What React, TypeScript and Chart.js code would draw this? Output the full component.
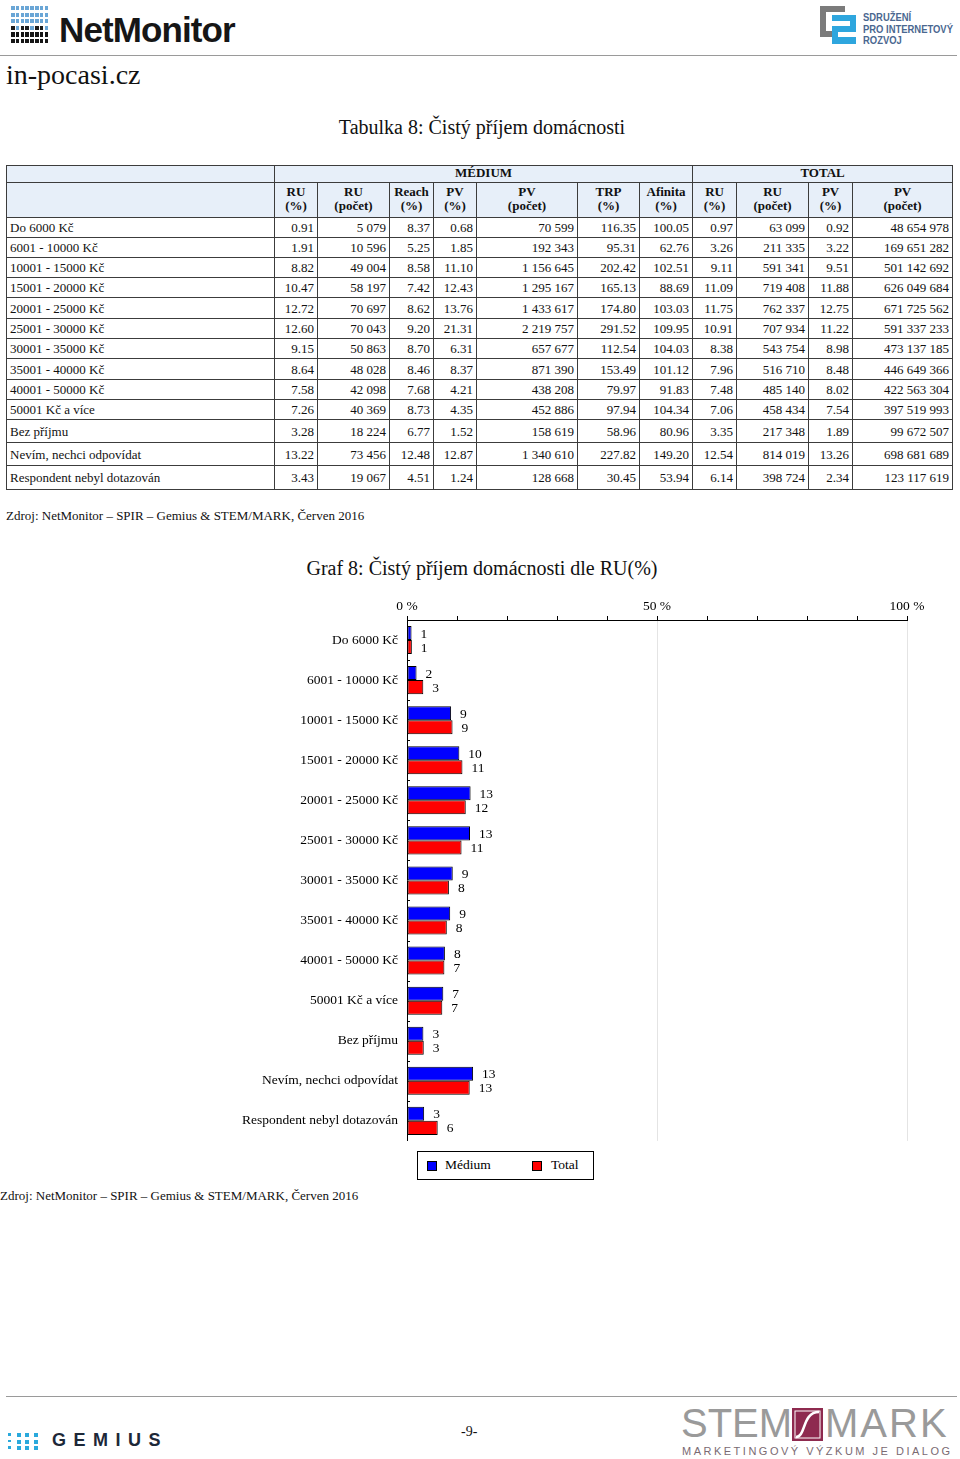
import React, { useEffect, useRef } from 'react';
import { Chart, registerables } from 'chart.js';

Chart.register(...registerables);

// ---------- DATA ----------
const categories = [
  'Do 6000 Kč',
  '6001 - 10000 Kč',
  '10001 - 15000 Kč',
  '15001 - 20000 Kč',
  '20001 - 25000 Kč',
  '25001 - 30000 Kč',
  '30001 - 35000 Kč',
  '35001 - 40000 Kč',
  '40001 - 50000 Kč',
  '50001 Kč a více',
  'Bez příjmu',
  'Nevím, nechci odpovídat',
  'Respondent nebyl dotazován',
];

const mediumRU = [0.91, 1.91, 8.82, 10.47, 12.72, 12.6, 9.15, 8.64, 7.58, 7.26, 3.28, 13.22, 3.43];
const mediumRUCount = ['5 079', '10 596', '49 004', '58 197', '70 697', '70 043', '50 863', '48 028', '42 098', '40 369', '18 224', '73 456', '19 067'];
const mediumReach = [8.37, 5.25, 8.58, 7.42, 8.62, 9.2, 8.7, 8.46, 7.68, 8.73, 6.77, 12.48, 4.51];
const mediumPV = [0.68, 1.85, 11.1, 12.43, 13.76, 21.31, 6.31, 8.37, 4.21, 4.35, 1.52, 12.87, 1.24];
const mediumPVCount = ['70 599', '192 343', '1 156 645', '1 295 167', '1 433 617', '2 219 757', '657 677', '871 390', '438 208', '452 886', '158 619', '1 340 610', '128 668'];
const mediumTRP = [116.35, 95.31, 202.42, 165.13, 174.8, 291.52, 112.54, 153.49, 79.97, 97.94, 58.96, 227.82, 30.45];
const mediumAffinity = [100.05, 62.76, 102.51, 88.69, 103.03, 109.95, 104.03, 101.12, 91.83, 104.34, 80.96, 149.2, 53.94];

const totalRU = [0.97, 3.26, 9.11, 11.09, 11.75, 10.91, 8.38, 7.96, 7.48, 7.06, 3.35, 12.54, 6.14];
const totalRUCount = ['63 099', '211 335', '591 341', '719 408', '762 337', '707 934', '543 754', '516 710', '485 140', '458 434', '217 348', '814 019', '398 724'];
const totalPV = [0.92, 3.22, 9.51, 11.88, 12.75, 11.22, 8.98, 8.48, 8.02, 7.54, 1.89, 13.26, 2.34];
const totalPVCount = ['48 654 978', '169 651 282', '501 142 692', '626 049 684', '671 725 562', '591 337 233', '473 137 185', '446 649 366', '422 563 304', '397 519 993', '99 672 507', '698 681 689', '123 117 619'];

const columnHeaders = [
  ['RU', '(%)'],
  ['RU', '(počet)'],
  ['Reach', '(%)'],
  ['PV', '(%)'],
  ['PV', '(počet)'],
  ['TRP', '(%)'],
  ['Afinita', '(%)'],
  ['RU', '(%)'],
  ['RU', '(počet)'],
  ['PV', '(%)'],
  ['PV', '(počet)'],
];

const seriesNames = ['Médium', 'Total'];
const xTickLabels = [0, 50, 100];
const sourceText = 'Zdroj: NetMonitor – SPIR – Gemius & STEM/MARK, Červen 2016';

// ---------- STYLE ----------
const SERIF = '"Liberation Serif", "Times New Roman", serif';
const SANS = '"Liberation Sans", Arial, sans-serif';
const BLUE = '#0000ff';
const RED = '#ff0000';

const colWidths = [268, 43, 72, 44, 43, 101, 62, 53, 44, 72, 44, 100];
const dataRowHeights = [20, 20, 20, 20, 21, 20, 20, 21, 20, 20, 23, 23, 24];

const fmt = (v: number) => v.toFixed(2);

const barLabelPlugin = {
  id: 'barLabels',
  afterDatasetsDraw(chart: any) {
    const ctx = chart.ctx;
    ctx.save();
    ctx.font = '13.5px ' + SERIF;
    ctx.fillStyle = '#000';
    ctx.textBaseline = 'middle';
    ctx.textAlign = 'left';
    chart.data.datasets.forEach((ds: any, di: number) => {
      const meta = chart.getDatasetMeta(di);
      meta.data.forEach((bar: any, i: number) => {
        ctx.fillText(String(Math.round(ds.data[i])), bar.x + 9, bar.y + 1);
      });
    });
    // small tick marks at category boundaries on the left axis
    const area = chart.chartArea;
    const n = chart.data.labels.length;
    const band = (area.bottom - area.top) / n;
    ctx.strokeStyle = '#000';
    ctx.lineWidth = 1;
    for (let i = 1; i < n; i++) {
      const y = Math.round(area.top + i * band) + 0.5;
      ctx.beginPath();
      ctx.moveTo(area.left, y);
      ctx.lineTo(area.left + 3, y);
      ctx.stroke();
    }
    ctx.restore();
  },
};

function BarChart() {
  const ref = useRef<HTMLCanvasElement>(null);
  useEffect(() => {
    if (!ref.current) return;
    const font = { family: SERIF, size: 13.5 };
    const chart = new Chart(ref.current, {
      type: 'bar',
      data: {
        labels: categories,
        datasets: [
          {
            label: seriesNames[0],
            data: mediumRU,
            backgroundColor: BLUE,
            borderColor: '#000',
            borderWidth: 1,
            borderSkipped: false,
            categoryPercentage: 0.7,
            barPercentage: 1,
          },
          {
            label: seriesNames[1],
            data: totalRU,
            backgroundColor: RED,
            borderColor: '#000',
            borderWidth: 1,
            borderSkipped: false,
            categoryPercentage: 0.7,
            barPercentage: 1,
          },
        ],
      },
      options: {
        indexAxis: 'y',
        responsive: false,
        animation: false,
        layout: { padding: { left: 0, right: 53, top: 0, bottom: 10 } },
        plugins: {
          legend: { display: false },
          tooltip: { enabled: false },
        },
        scales: {
          x: {
            type: 'linear',
            position: 'top',
            min: 0,
            max: 100,
            ticks: {
              stepSize: 10,
              autoSkip: false,
              maxRotation: 0,
              padding: 1,
              color: '#000',
              font,
              callback: (v: any) => (xTickLabels.includes(Number(v)) ? v + ' %' : ''),
            },
            grid: {
              color: (c: any) =>
                c.tick && (c.tick.value === 50 || c.tick.value === 100) ? '#e4e4e4' : 'rgba(0,0,0,0)',
              tickColor: '#000',
              tickLength: 4,
              drawTicks: true,
            },
            border: { display: true, color: '#000', width: 1 },
            afterFit: (s: any) => {
              s.height = 30;
            },
          },
          y: {
            type: 'category',
            ticks: { padding: 9, color: '#000', font },
            grid: { drawOnChartArea: false, drawTicks: false },
            border: { display: true, color: '#000', width: 1 },
            afterFit: (s: any) => {
              s.width = 407;
            },
          },
        },
      } as any,
      plugins: [barLabelPlugin],
    });
    return () => chart.destroy();
  }, []);
  return (
    <canvas
      ref={ref}
      width={960}
      height={568}
      style={{ position: 'absolute', left: 0, top: 590, width: 960, height: 568 }}
    />
  );
}

function NetMonitorLogo() {
  const cells: any[] = [];
  for (let r = 0; r < 6; r++) {
    for (let c = 0; c < 8; c++) {
      let color = '#6aa6d6';
      if (r === 3) color = c % 3 === 1 ? '#6aa6d6' : '#1c1c1c';
      if (r >= 4) color = '#161616';
      cells.push(
        <div
          key={r + '-' + c}
          style={{ position: 'absolute', left: 11 + c * 4.8, top: 6 + r * 6.6, width: 3.6, height: 4.2, background: color }}
        />
      );
    }
  }
  return (
    <>
      {cells}
      <div
        style={{
          position: 'absolute',
          left: 59,
          top: 10,
          fontFamily: SANS,
          fontWeight: 'bold',
          fontSize: 35,
          lineHeight: '40px',
          letterSpacing: -0.9,
          color: '#161616',
        }}
      >
        NetMonitor
      </div>
    </>
  );
}

function SpirLogo() {
  return (
    <>
      <div style={{ position: 'absolute', left: 820, top: 6, width: 25, height: 31, background: '#7b7b7b' }} />
      <div style={{ position: 'absolute', left: 826, top: 12, width: 19, height: 19, background: '#fff' }} />
      <div style={{ position: 'absolute', left: 832, top: 15, width: 24, height: 29, background: '#2ea6de' }} />
      <div style={{ position: 'absolute', left: 832, top: 21, width: 18, height: 5, background: '#fff' }} />
      <div style={{ position: 'absolute', left: 838, top: 32, width: 18, height: 5, background: '#fff' }} />
      <div
        style={{
          position: 'absolute',
          left: 863,
          top: 12,
          fontFamily: SANS,
          fontWeight: 'bold',
          fontSize: 11.5,
          lineHeight: '11.5px',
          color: '#4a6790',
          transform: 'scaleX(0.82)',
          transformOrigin: 'left top',
          whiteSpace: 'nowrap',
        }}
      >
        SDRUŽENÍ
        <br />
        PRO INTERNETOVÝ
        <br />
        ROZVOJ
      </div>
    </>
  );
}

function GemiusLogo() {
  const dots: any[] = [];
  for (let r = 0; r < 3; r++) {
    for (let c = 0; c < 4; c++) {
      const s = c === 0 ? 2.5 : 4;
      dots.push(
        <div
          key={r + '-' + c}
          style={{ position: 'absolute', left: 8 + c * 8.5, top: 1433 + r * 6.5, width: s, height: s, background: '#2aa9dc' }}
        />
      );
    }
  }
  return (
    <>
      {dots}
      <div
        style={{
          position: 'absolute',
          left: 52,
          top: 1429,
          fontFamily: SANS,
          fontWeight: 'bold',
          fontSize: 18,
          lineHeight: '23px',
          letterSpacing: 7.5,
          color: '#1d2838',
        }}
      >
        GEMIUS
      </div>
    </>
  );
}

function StemMarkLogo() {
  return (
    <>
      <div
        style={{
          position: 'absolute',
          left: 681,
          top: 1400,
          fontFamily: SANS,
          fontSize: 40,
          lineHeight: '46px',
          color: '#9a9a9a',
          letterSpacing: 0,
        }}
      >
        STEM
      </div>
      <svg style={{ position: 'absolute', left: 792, top: 1408 }} width={31} height={33} viewBox="0 0 31 33">
        <rect x={0} y={0} width={31} height={33} fill="#8e2a4f" />
        <rect x={3} y={3} width={25} height={27} fill="none" stroke="#fff" strokeWidth={1} />
        <path d="M4 29 C 14 29, 10 4, 27 4" stroke="#fff" strokeWidth={2.5} fill="none" />
      </svg>
      <div
        style={{
          position: 'absolute',
          left: 825,
          top: 1400,
          fontFamily: SANS,
          fontSize: 40,
          lineHeight: '46px',
          color: '#9a9a9a',
          letterSpacing: 2,
        }}
      >
        MARK
      </div>
      <div
        style={{
          position: 'absolute',
          left: 682,
          top: 1445,
          fontFamily: SANS,
          fontSize: 11,
          lineHeight: '13px',
          color: '#7a6a72',
          letterSpacing: 2.5,
          whiteSpace: 'nowrap',
        }}
      >
        MARKETINGOVÝ VÝZKUM JE DIALOG
      </div>
    </>
  );
}

function DataTable() {
  const border = '1px solid #3c3c3c';
  const headBg = '#e7eff9';
  const cellBase: any = {
    border,
    padding: '0 3px',
    fontSize: 13,
    lineHeight: '15px',
    whiteSpace: 'nowrap',
    overflow: 'hidden',
  };
  const headCell: any = {
    ...cellBase,
    background: headBg,
    fontWeight: 'bold',
    textAlign: 'center',
    lineHeight: '14px',
    paddingBottom: 2,
  };
  return (
    <table
      style={{
        position: 'absolute',
        left: 6,
        top: 165,
        width: 946,
        borderCollapse: 'collapse',
        tableLayout: 'fixed',
        fontFamily: SERIF,
        color: '#111',
      }}
    >
      <colgroup>
        {colWidths.map((w, i) => (
          <col key={i} style={{ width: w }} />
        ))}
      </colgroup>
      <tbody>
        <tr style={{ height: 17 }}>
          <td style={headCell}></td>
          <td style={headCell} colSpan={7}>
            MÉDIUM
          </td>
          <td style={headCell} colSpan={4}>
            TOTAL
          </td>
        </tr>
        <tr style={{ height: 35 }}>
          <td style={headCell}></td>
          {columnHeaders.map((h, i) => (
            <td key={i} style={headCell}>
              {h[0]}
              <br />
              {h[1]}
            </td>
          ))}
        </tr>
        {categories.map((cat, i) => {
          const vals = [
            fmt(mediumRU[i]),
            mediumRUCount[i],
            fmt(mediumReach[i]),
            fmt(mediumPV[i]),
            mediumPVCount[i],
            fmt(mediumTRP[i]),
            fmt(mediumAffinity[i]),
            fmt(totalRU[i]),
            totalRUCount[i],
            fmt(totalPV[i]),
            totalPVCount[i],
          ];
          return (
            <tr key={cat} style={{ height: dataRowHeights[i] }}>
              <td style={{ ...cellBase, textAlign: 'left' }}>{cat}</td>
              {vals.map((v, j) => (
                <td key={j} style={{ ...cellBase, textAlign: 'right' }}>
                  {v}
                </td>
              ))}
            </tr>
          );
        })}
      </tbody>
    </table>
  );
}

export default function App() {
  useEffect(() => {
    document.body.style.margin = '0';
  }, []);
  const text = (extra: any) => ({ position: 'absolute' as const, fontFamily: SERIF, color: '#111', whiteSpace: 'nowrap' as const, ...extra });
  return (
    <div style={{ position: 'relative', width: 960, height: 1459, background: '#fff', overflow: 'hidden' }}>
      <NetMonitorLogo />
      <SpirLogo />
      <div style={{ position: 'absolute', left: 0, top: 55, width: 957, height: 1, background: '#9a9a9a' }} />
      <div style={text({ left: 6, top: 59, fontSize: 28, lineHeight: '32px' })}>in-pocasi.cz</div>
      <div style={text({ left: 0, width: 964, top: 115, fontSize: 20, lineHeight: '24px', textAlign: 'center' })}>
        Tabulka 8: Čistý příjem domácnosti
      </div>
      <DataTable />
      <div style={text({ left: 6, top: 508, fontSize: 13, lineHeight: '16px' })}>{sourceText}</div>
      <div style={text({ left: 0, width: 964, top: 556, fontSize: 20, lineHeight: '24px', textAlign: 'center' })}>
        Graf 8: Čistý příjem domácnosti dle RU(%)
      </div>
      <BarChart />
      {/* legend */}
      <div
        style={{
          position: 'absolute',
          left: 417,
          top: 1151,
          width: 175,
          height: 27,
          border: '1px solid #000',
          fontFamily: SERIF,
          fontSize: 13.5,
          background: '#fff',
        }}
      >
        <div style={{ position: 'absolute', left: 9, top: 9, width: 8, height: 8, background: BLUE, border: '1px solid #000' }} />
        <div style={{ position: 'absolute', left: 27, top: 5, lineHeight: '16px' }}>{seriesNames[0]}</div>
        <div style={{ position: 'absolute', left: 114, top: 9, width: 8, height: 8, background: RED, border: '1px solid #000' }} />
        <div style={{ position: 'absolute', left: 133, top: 5, lineHeight: '16px' }}>{seriesNames[1]}</div>
      </div>
      <div style={text({ left: 0, top: 1188, fontSize: 13, lineHeight: '16px' })}>{sourceText}</div>
      <div style={{ position: 'absolute', left: 6, top: 1396, width: 951, height: 1, background: '#9a9a9a' }} />
      <GemiusLogo />
      <div style={text({ left: 461, top: 1424, fontSize: 14, lineHeight: '16px' })}>-9-</div>
      <StemMarkLogo />
    </div>
  );
}
